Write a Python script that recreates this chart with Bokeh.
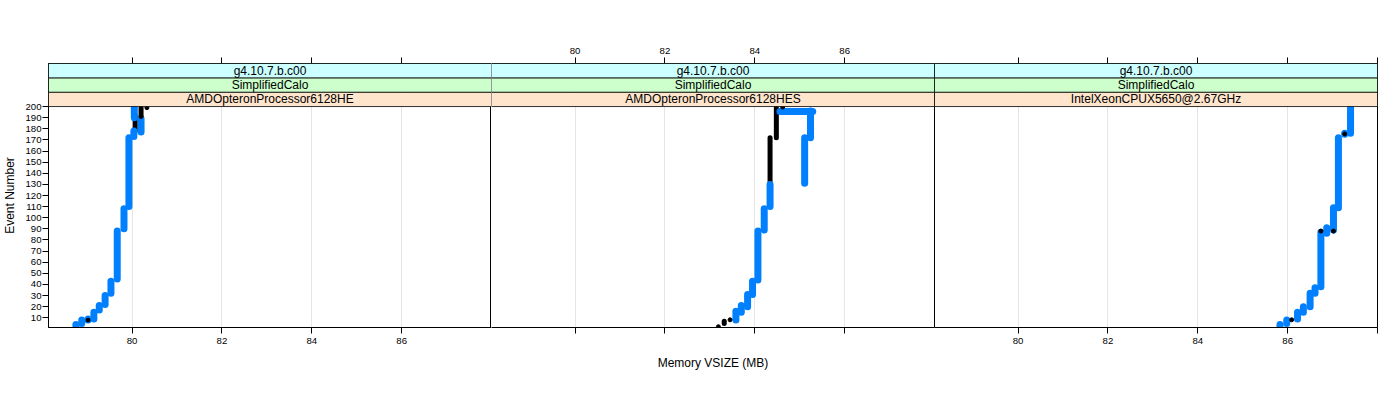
from bokeh.plotting import figure
from bokeh.layouts import row
from bokeh.models import Range1d, FixedTicker, LinearAxis, BoxAnnotation, Label
from bokeh.embed import file_html
from bokeh.resources import INLINE

FONT = "Liberation Sans"
BLUE = "#0080ff"

# ---------------- data ----------------
version = "g4.10.7.b.c00"
benchmark = "SimplifiedCalo"
cpus = ["AMDOpteronProcessor6128HE", "AMDOpteronProcessor6128HES", "IntelXeonCPUX5650@2.67GHz"]

x_ticks = [80, 82, 84, 86, 88]
x_tick_labels = ["80", "82", "84", "86", ""]
y_ticks = [10, 20, 30, 40, 50, 60, 70, 80, 90, 100,
           110, 120, 130, 140, 150, 160, 170, 180, 190, 200]

# Panel 1: AMDOpteronProcessor6128HE  (memory MB, event range)
he_blue_x = [78.75, 78.88, 79.02, 79.15, 79.27, 79.40, 79.53, 79.67, 79.82, 79.93, 80.04, 80.20, 80.05]
he_blue_y0 = [2, 5, 8, 9, 17, 22, 32, 45, 90, 110, 173, 177, 190]
he_blue_y1 = [4, 8, 9, 15, 21, 30, 43, 88, 108, 172, 178, 189, 199]
he_black_x = [80.07, 80.20]
he_black_y0 = [178, 186]
he_black_y1 = [192, 199]
he_dot_x = [79.02, 80.20, 80.33]
he_dot_y = [8, 191, 199]

# Panel 2: AMDOpteronProcessor6128HES
hes_blue_x = [83.58, 83.70, 83.84, 83.95, 84.07, 84.21, 84.34, 85.24, 85.11]
hes_blue_y0 = [8, 15, 20, 31, 44, 89, 110, 172, 131]
hes_blue_y1 = [16, 21, 31, 43, 88, 108, 130, 196, 172]
hes_blue_h_x0 = [84.56]
hes_blue_h_x1 = [85.29]
hes_blue_h_y = [195.5]
hes_black_x = [83.32, 84.34, 84.48]
hes_black_y0 = [5, 131, 172]
hes_black_y1 = [7, 172, 199]
hes_dot_x = [83.19, 83.45, 84.62]
hes_dot_y = [2, 8.2, 199.5]

# Panel 3: IntelXeonCPUX5650@2.67GHz
xe_blue_x = [85.83, 85.98, 86.22, 86.35, 86.50, 86.61, 86.74, 86.87, 87.02, 87.13, 87.27, 87.40]
xe_blue_y0 = [2, 5, 9, 15, 20, 32, 38, 86, 89, 109, 175, 176]
xe_blue_y1 = [4, 8, 15, 20, 32, 37, 87, 91, 109, 172, 176, 199]
xe_black_x = []
xe_black_y0 = []
xe_black_y1 = []
xe_dot_x = [86.09, 86.74, 87.02, 87.27]
xe_dot_y = [8.2, 88, 88, 175.4]

panels = [
    (cpus[0], he_blue_x, he_blue_y0, he_blue_y1, he_black_x, he_black_y0, he_black_y1, he_dot_x, he_dot_y),
    (cpus[1], hes_blue_x, hes_blue_y0, hes_blue_y1, hes_black_x, hes_black_y0, hes_black_y1, hes_dot_x, hes_dot_y),
    (cpus[2], xe_blue_x, xe_blue_y0, xe_blue_y1, xe_black_x, xe_black_y0, xe_black_y1, xe_dot_x, xe_dot_y),
]

# ---------------- layout ----------------
xr = Range1d(78.14, 88.0)
yr = Range1d(1.3, 238.7)
Y_DATA_TOP = 200
strip_h = (yr.end - Y_DATA_TOP) / 3.0


def style_x_axis(ax, show_labels, standoff):
    ax.ticker = FixedTicker(ticks=x_ticks)
    ax.major_tick_out = 6
    ax.major_tick_in = 0
    ax.minor_tick_line_color = None
    ax.axis_line_color = "black"
    ax.major_tick_line_color = "black"
    ax.major_label_text_font = FONT
    ax.major_label_text_font_size = "9.6px"
    ax.major_label_text_color = "black"
    ax.major_label_standoff = standoff
    labels = x_tick_labels if show_labels else [""] * len(x_ticks)
    ax.major_label_overrides = dict(zip(x_ticks, labels))


figs = []
for i, (cpu, bx, by0, by1, kx, ky0, ky1, dx, dy) in enumerate(panels):
    p = figure(frame_width=443, frame_height=264, x_range=xr, y_range=yr,
               output_backend="svg", toolbar_location=None,
               x_axis_location="below", y_axis_location=("left" if i == 0 else None),
               min_border_top=63, min_border_bottom=52,
               min_border_left=(39 if i == 0 else 0),
               min_border_right=(12 if i == 2 else 0))
    p.background_fill_color = "white"
    p.border_fill_color = "white"
    # outer panels draw the full box; the middle one shares their edges
    p.outline_line_color = None if i == 1 else "black"
    p.outline_line_width = 1

    # grid
    p.xgrid.ticker = FixedTicker(ticks=x_ticks)
    p.xgrid.grid_line_color = "#e6e6e6"
    p.ygrid.grid_line_color = None

    # bottom axis
    bottom = p.below[0]
    style_x_axis(bottom, show_labels=(i != 1), standoff=4)
    if i == 1:
        bottom.axis_label = "Memory VSIZE (MB)"
        bottom.axis_label_text_font = FONT
        bottom.axis_label_text_font_size = "12px"
        bottom.axis_label_text_font_style = "normal"
        bottom.axis_label_text_color = "black"
        bottom.axis_label_standoff = 22

    # top axis
    top = LinearAxis()
    style_x_axis(top, show_labels=(i == 1), standoff=4)
    p.add_layout(top, "above")

    # left axis
    if i == 0:
        la = p.left[0]
        la.ticker = FixedTicker(ticks=y_ticks)
        la.major_tick_out = 6
        la.major_tick_in = 0
        la.minor_tick_line_color = None
        la.axis_line_color = "black"
        la.major_tick_line_color = "black"
        la.major_label_text_font = FONT
        la.major_label_text_font_size = "9.6px"
        la.major_label_text_color = "black"
        la.major_label_standoff = 1
        la.axis_label = "Event Number"
        la.axis_label_text_font = FONT
        la.axis_label_text_font_size = "12px"
        la.axis_label_text_font_style = "normal"
        la.axis_label_text_color = "black"
        la.axis_label_standoff = 5

    # data
    if kx:
        p.segment(x0=kx, y0=ky0, x1=kx, y1=ky1, line_color="black", line_width=5, line_cap="round")
    p.segment(x0=bx, y0=by0, x1=bx, y1=by1, line_color=BLUE, line_width=7, line_cap="round")
    if i == 1:
        p.segment(x0=hes_blue_h_x0, y0=hes_blue_h_y, x1=hes_blue_h_x1, y1=hes_blue_h_y,
                  line_color=BLUE, line_width=7, line_cap="round")
    p.scatter(x=dx, y=dy, size=4, color="black")

    # strips
    strip_items = [(cpu, "#ffe5cc"), (benchmark, "#ccffcc"), (version, "#ccffff")]
    for k, (txt, col) in enumerate(strip_items):
        b = Y_DATA_TOP + k * strip_h
        p.add_layout(BoxAnnotation(bottom=b, top=b + strip_h, fill_color=col, fill_alpha=1.0,
                                   line_color="black", line_width=1, line_alpha=0.8))
        p.add_layout(Label(x=(xr.start + xr.end) / 2, y=b + strip_h / 2, text=txt,
                           text_align="center", text_baseline="middle",
                           text_font=FONT, text_font_size="12px", text_color="black"))
    figs.append(p)

layout = row(*figs, spacing=0)
open("out.html", "w").write(file_html(layout, INLINE))
